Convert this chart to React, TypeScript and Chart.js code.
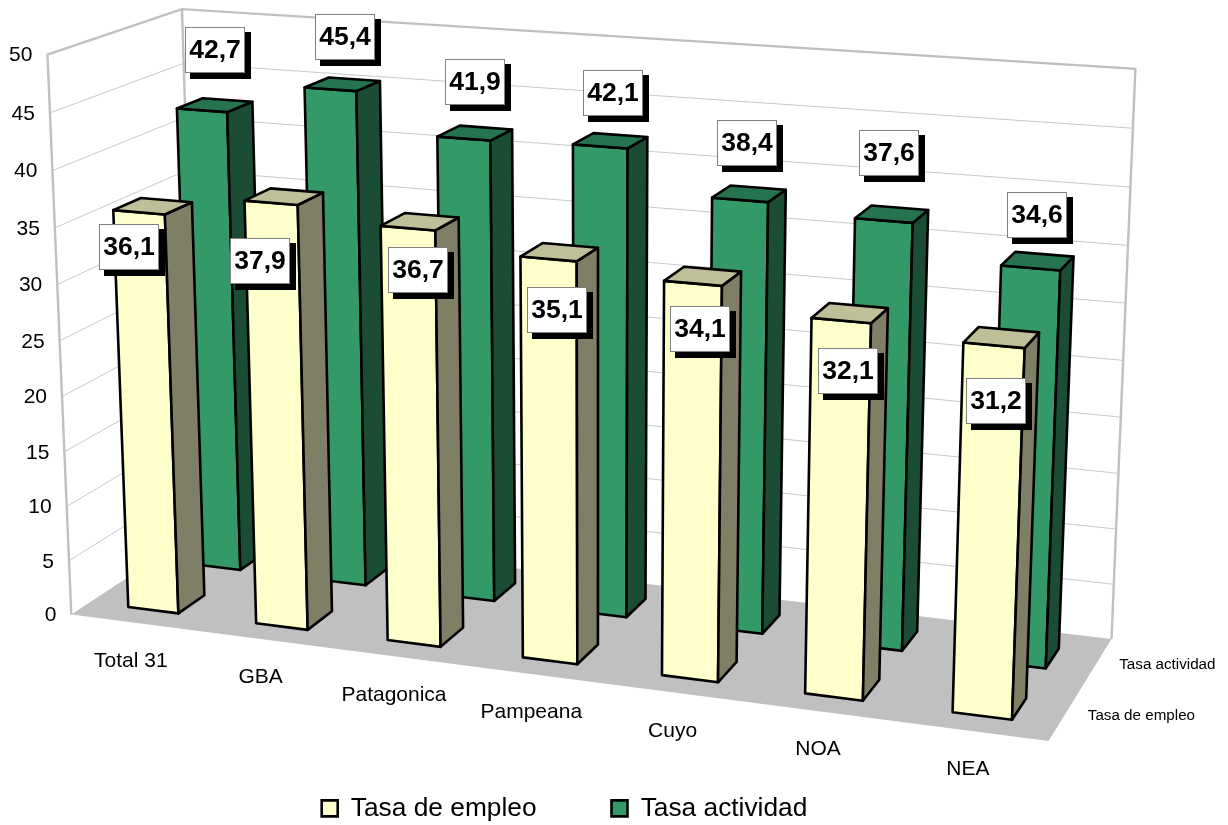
import React, { useEffect, useRef } from "react";
import { Chart, registerables } from "chart.js";

Chart.register(...registerables);

const categories = ["Total 31", "GBA", "Patagonica", "Pampeana", "Cuyo", "NOA", "NEA"];
const tasaEmpleo = [36.1, 37.9, 36.7, 35.1, 34.1, 32.1, 31.2];
const tasaActividad = [42.7, 45.4, 41.9, 42.1, 38.4, 37.6, 34.6];
const seriesNames = ["Tasa de empleo", "Tasa actividad"];

// --- layout constants (not data) ---
const FONT = "'Liberation Sans', Arial, sans-serif";
// anchors of the perspective box: [u, v, w] -> [x, y]
const ANCHORS: number[][] = [
  [0, 0, 0, 71, 616], [0, 0, 1, 48, 54], [0, 1, 1, 181, 10], [0, 1, 0, 199, 530],
  [1, 1, 1, 1136, 69], [1, 1, 0, 1112, 639], [1, 0, 0, 1048, 741],
  [0, 0, 0.5, 60, 340], [1, 1, 0.6, 1125, 303],
];
const DEPTH_RANGE = [[0.14, 0.345], [0.64, 0.845]];
const SIDE = ["#7F7F66", "#1A4D33"];
const TOP = ["#BFBF99", "#267350"];
const LABEL_NUDGE = [
  [[-10, 35], [-11, 58], [10, 42], [9, 51], [7, 46], [7, 50], [2, 56]],
  [[13, -60], [15, -52], [11, -57], [13, -53], [7, -57], [5, -68], [6, -53]],
];

function solveCamera(): number[] {
  const n = 11;
  const A: number[][] = Array.from({ length: n }, () => new Array(n + 1).fill(0));
  const add = (row: number[], rhs: number) => {
    for (let i = 0; i < n; i++) {
      for (let j = 0; j < n; j++) A[i][j] += row[i] * row[j];
      A[i][n] += row[i] * rhs;
    }
  };
  for (const [u, v, w, x, y] of ANCHORS) {
    add([u, v, w, 1, 0, 0, 0, 0, -x * u, -x * v, -x * w], x);
    add([0, 0, 0, 0, u, v, w, 1, -y * u, -y * v, -y * w], y);
  }
  for (let c = 0; c < n; c++) {
    let p = c;
    for (let r = c + 1; r < n; r++) if (Math.abs(A[r][c]) > Math.abs(A[p][c])) p = r;
    [A[c], A[p]] = [A[p], A[c]];
    for (let r = 0; r < n; r++) {
      if (r === c) continue;
      const f = A[r][c] / A[c][c];
      for (let k = c; k <= n; k++) A[r][k] -= f * A[c][k];
    }
  }
  return A.map((row, i) => row[n] / row[i]);
}

const M = solveCamera();
function project(u: number, v: number, w: number): [number, number] {
  const d = M[8] * u + M[9] * v + M[10] * w + 1;
  return [
    (M[0] * u + M[1] * v + M[2] * w + M[3]) / d,
    (M[4] * u + M[5] * v + M[6] * w + M[7]) / d,
  ];
}

function path(ctx: CanvasRenderingContext2D, pts: [number, number][]) {
  ctx.beginPath();
  pts.forEach((p, i) => (i ? ctx.lineTo(p[0], p[1]) : ctx.moveTo(p[0], p[1])));
}
function face(ctx: CanvasRenderingContext2D, pts: [number, number][], fill: string) {
  path(ctx, pts);
  ctx.closePath();
  ctx.fillStyle = fill;
  ctx.fill();
  ctx.strokeStyle = "#000";
  ctx.lineWidth = 2.6;
  ctx.lineJoin = "round";
  ctx.stroke();
}

function barBox(chart: any, el: any) {
  const a = chart.chartArea;
  const W = a.right - a.left;
  const H = a.bottom - a.top;
  return {
    u0: (el.x - el.width / 2 - a.left) / W,
    u1: (el.x + el.width / 2 - a.left) / W,
    w0: (a.bottom - el.base) / H,
    w1: (a.bottom - el.y) / H,
  };
}

const perspective3d = {
  id: "perspective3d",
  beforeDatasetsDraw(chart: any) {
    const ctx: CanvasRenderingContext2D = chart.ctx;
    const a = chart.chartArea;
    const yS = chart.scales.y;
    const xS = chart.scales.x;
    const wOf = (val: number) => (a.bottom - yS.getPixelForValue(val)) / (a.bottom - a.top);
    ctx.save();
    // floor
    path(ctx, [project(0, 0, 0), project(1, 0, 0), project(1, 1, 0), project(0, 1, 0)]);
    ctx.closePath();
    ctx.fillStyle = "#C0C0C0";
    ctx.fill();
    // gridlines
    ctx.strokeStyle = "#C8C8C8";
    ctx.lineWidth = 1;
    for (const t of yS.ticks) {
      const w = wOf(t.value);
      if (w <= 0 || w >= 1) continue;
      path(ctx, [project(0, 0, w), project(0, 1, w), project(1, 1, w)]);
      ctx.stroke();
    }
    // wall frame
    ctx.strokeStyle = "#C0C0C0";
    ctx.lineWidth = 2.4;
    ctx.lineJoin = "miter";
    path(ctx, [project(0, 0, 0), project(0, 0, 1), project(0, 1, 1), project(1, 1, 1), project(1, 1, 0)]);
    ctx.stroke();
    path(ctx, [project(0, 1, 1), project(0, 1, 0)]);
    ctx.stroke();
    // value axis labels
    ctx.fillStyle = "#000";
    ctx.font = `21px ${FONT}`;
    ctx.textAlign = "right";
    ctx.textBaseline = "middle";
    for (const t of yS.ticks) {
      const [x, y] = project(0, 0, wOf(t.value));
      ctx.fillText(String(t.value), x - 15, y + 1);
    }
    // category labels
    ctx.textAlign = "center";
    categories.forEach((c, i) => {
      const u = (xS.getPixelForValue(i) - a.left) / (a.right - a.left);
      const [x, y] = project(u, 0, 0);
      ctx.fillText(c, x - 4, y + 38);
    });
    // series (depth) labels
    ctx.font = `15.2px ${FONT}`;
    ctx.textAlign = "left";
    seriesNames.forEach((s, i) => {
      const [x, y] = project(1, (DEPTH_RANGE[i][0] + DEPTH_RANGE[i][1]) / 2, 0);
      ctx.fillText(s, x + 23, y + 1.5);
    });
    ctx.restore();
  },
  beforeDatasetDraw(chart: any, args: any) {
    const ctx: CanvasRenderingContext2D = chart.ctx;
    const idx = args.index;
    const [v0, v1] = DEPTH_RANGE[idx];
    const meta = chart.getDatasetMeta(idx);
    const fill = chart.data.datasets[idx].backgroundColor;
    ctx.save();
    for (let i = meta.data.length - 1; i >= 0; i--) {
      const { u0, u1, w0, w1 } = barBox(chart, meta.data[i]);
      face(ctx, [project(u0, v0, w0), project(u1, v0, w0), project(u1, v0, w1), project(u0, v0, w1)], fill);
      face(ctx, [project(u1, v0, w0), project(u1, v1, w0), project(u1, v1, w1), project(u1, v0, w1)], SIDE[idx]);
      face(ctx, [project(u0, v0, w1), project(u1, v0, w1), project(u1, v1, w1), project(u0, v1, w1)], TOP[idx]);
    }
    ctx.restore();
    return false;
  },
  afterDatasetsDraw(chart: any) {
    const ctx: CanvasRenderingContext2D = chart.ctx;
    ctx.save();
    ctx.font = `bold 26.5px ${FONT}`;
    ctx.textAlign = "center";
    ctx.textBaseline = "middle";
    chart.data.datasets.forEach((ds: any, idx: number) => {
      const meta = chart.getDatasetMeta(idx);
      meta.data.forEach((el: any, i: number) => {
        const { u0, u1, w1 } = barBox(chart, el);
        const [ax, ay] = project((u0 + u1) / 2, DEPTH_RANGE[idx][0], w1);
        const cx = Math.round(ax + LABEL_NUDGE[idx][i][0]);
        const cy = Math.round(ay + LABEL_NUDGE[idx][i][1]);
        const bw = 60, bh = 46;
        ctx.fillStyle = "#000";
        ctx.fillRect(cx - bw / 2 + 5, cy - bh / 2 + 5, bw + 1, bh + 1);
        ctx.fillStyle = "#fff";
        ctx.fillRect(cx - bw / 2, cy - bh / 2, bw, bh);
        ctx.strokeStyle = "#808080";
        ctx.lineWidth = 1;
        ctx.strokeRect(cx - bw / 2 + 0.5, cy - bh / 2 + 0.5, bw - 1, bh - 1);
        ctx.fillStyle = "#000";
        ctx.fillText(ds.data[i].toFixed(1).replace(".", ","), cx, cy + 1);
      });
    });
    ctx.restore();
  },
};

export default function App() {
  const ref = useRef<HTMLCanvasElement>(null);
  useEffect(() => {
    const chart = new Chart(ref.current as HTMLCanvasElement, {
      type: "bar",
      data: {
        labels: categories,
        datasets: [
          { label: seriesNames[0], data: tasaEmpleo, backgroundColor: "#FFFFCC", borderColor: "#000", borderWidth: 2.6 },
          { label: seriesNames[1], data: tasaActividad, backgroundColor: "#339966", borderColor: "#000", borderWidth: 2.6 },
        ],
      },
      options: {
        animation: false,
        responsive: false,
        devicePixelRatio: 1,
        layout: { padding: { left: 0, top: 0, right: 99, bottom: -6.5 } },
        datasets: { bar: { grouped: false, categoryPercentage: 1, barPercentage: 0.395 } },
        scales: {
          x: { display: false },
          y: { display: false, min: 0, max: 50, ticks: { stepSize: 5 } },
        },
        plugins: {
          tooltip: { enabled: false },
          legend: {
            position: "bottom",
            labels: {
              boxWidth: 16,
              boxHeight: 16,
              padding: 75,
              color: "#000",
              font: { size: 26.3, family: FONT },
            },
          },
        },
      } as any,
      plugins: [perspective3d as any],
    });
    return () => chart.destroy();
  }, []);
  return (
    <div style={{ position: "fixed", left: 0, top: 0, width: 1228, height: 825, background: "#fff" }}>
      <canvas ref={ref} width={1228} height={825} style={{ display: "block" }} />
    </div>
  );
}
